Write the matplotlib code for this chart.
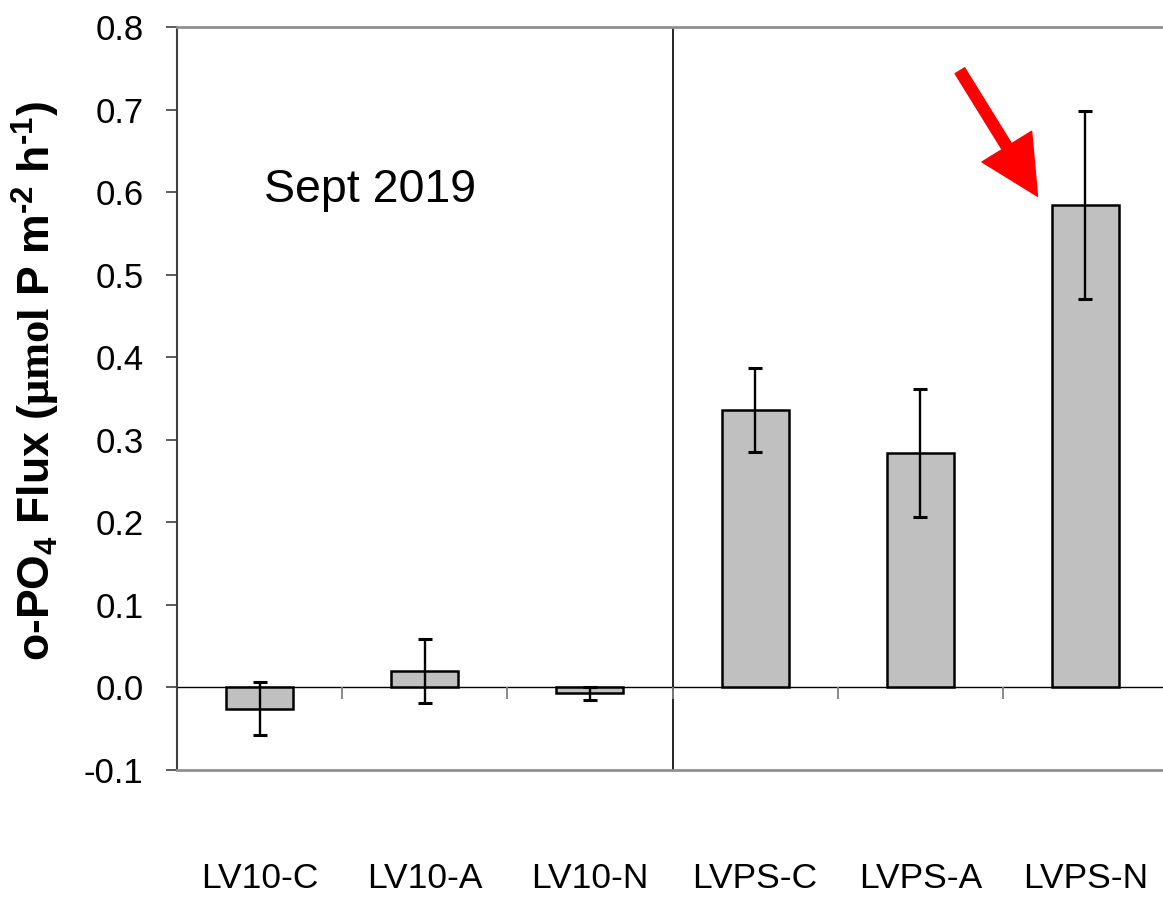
import matplotlib
matplotlib.use("Agg")
import matplotlib.pyplot as plt
import numpy as np

categories = ["LV10-C", "LV10-A", "LV10-N", "LVPS-C", "LVPS-A", "LVPS-N"]
flux = [-0.026, 0.020, -0.007, 0.336, 0.284, 0.584]
err = [0.032, 0.039, 0.008, 0.051, 0.077, 0.114]
yticks = [-0.1, 0.0, 0.1, 0.2, 0.3, 0.4, 0.5, 0.6, 0.7, 0.8]

plt.rcParams['font.family'] = ['Liberation Sans', 'DejaVu Sans']
plt.rcParams['mathtext.fontset'] = 'custom'
plt.rcParams['mathtext.rm'] = 'Liberation Sans:bold'
plt.rcParams['mathtext.bf'] = 'Liberation Sans:bold'
plt.rcParams['mathtext.it'] = 'Liberation Sans:bold'
plt.rcParams['mathtext.sf'] = 'Liberation Serif:bold'

fig = plt.figure(figsize=(11.63, 8.99), dpi=100)
ax = fig.add_axes([177/1163, 1-770/899, 991/1163, (770-27)/899])

x = np.arange(len(categories))
ax.bar(x, flux, width=0.405, color="#C0C0C0", edgecolor="black", linewidth=1.8, zorder=3)
ax.errorbar(x, flux, yerr=err, fmt="none", ecolor="black", elinewidth=1.7,
            capsize=5, capthick=2.2, zorder=4)

ax.set_xlim(-0.5, len(categories) - 0.5)
ax.set_ylim(-0.1, 0.8)
ax.set_yticks(yticks)
ax.set_yticklabels([f"{v:.1f}" for v in yticks], fontsize=25)
ax.set_xticks(x)
ax.set_xticklabels(categories, fontsize=25.5)
ax.tick_params(axis='x', length=0, pad=66)
ax.tick_params(axis='y', length=8, width=1.2, color="#404040", pad=16)

# zero line and group divider
ax.axhline(0, color="black", linewidth=1.0, zorder=2)
ax.axvline(2.5, color="black", linewidth=1.2, zorder=2)
# small category-boundary ticks on the zero line
ax.vlines(np.arange(0.5, len(categories) - 0.5, 1.0), -0.0135, 0,
          color="#808080", linewidth=1.3, zorder=2)

for s in ["top", "bottom"]:
    ax.spines[s].set_color("#909090")
    ax.spines[s].set_linewidth(2.0)
ax.spines["left"].set_color("#404040")
ax.spines["left"].set_linewidth(1.5)
ax.spines["right"].set_visible(False)

ax.set_ylabel(r"o-PO$_4$ Flux ($\mathsf{μmol}$ P m$^{\text{-2}}$ h$^{\text{-1}}$)",
              fontsize=32, fontweight="bold")
ax.yaxis.set_label_coords(-0.116, 0.524)

ax.text(0.666, 0.602, "Sept 2019", fontsize=33.5, ha="center", va="center")

# red arrow pointing at LVPS-N bar
ax.annotate("", xy=(x[5] - 0.29, flux[5] + 0.011), xytext=(x[5] - 0.76, flux[5] + 0.163),
            arrowprops=dict(arrowstyle="simple,head_width=42,head_length=42,tail_width=8",
                            color="red", mutation_scale=1, shrinkA=0, shrinkB=0),
            zorder=5)

fig.savefig("out.png", dpi=100)
